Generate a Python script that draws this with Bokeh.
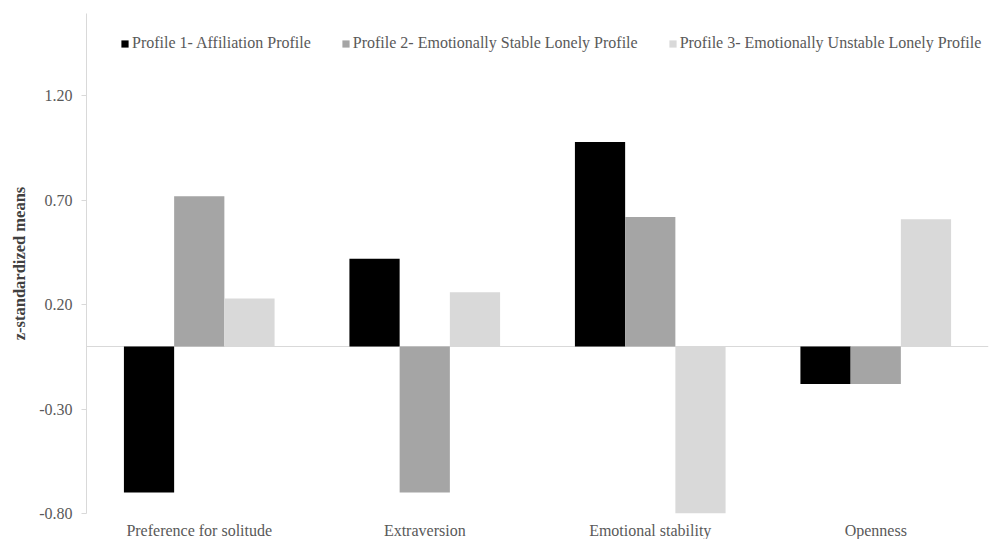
from bokeh.plotting import figure
from bokeh.models import (FactorRange, Range1d, FixedTicker, Span, Legend, LegendItem,
                          ColumnDataSource, GlobalInlineStyleSheet)
from bokeh.transform import dodge
from bokeh.embed import file_html
from bokeh.resources import INLINE

categories = ["Preference for solitude", "Extraversion", "Emotional stability", "Openness"]
series_names = ["Profile 1- Affiliation Profile",
                "Profile 2- Emotionally Stable Lonely Profile",
                "Profile 3- Emotionally Unstable Lonely Profile"]
profile1 = [-0.70, 0.42, 0.98, -0.18]
profile2 = [0.72, -0.70, 0.62, -0.18]
profile3 = [0.23, 0.26, -0.80, 0.61]
y_ticks = [-0.8, -0.3, 0.2, 0.7, 1.2]
y_tick_labels = ["-0.80", "-0.30", "0.20", "0.70", "1.20"]
colors = ["#000000", "#a5a5a5", "#d9d9d9"]

FONT = "Liberation Serif"
TEXT = "#595959"

src = ColumnDataSource(dict(cat=categories, p1=profile1, p2=profile2, p3=profile3))

p = figure(x_range=FactorRange(factors=categories, range_padding=0),
           y_range=Range1d(-0.80, 1.595),
           width=996, height=550, output_backend="svg", toolbar_location=None,
           min_border_left=86, min_border_right=8, min_border_top=13, min_border_bottom=37)
p.stylesheets = [GlobalInlineStyleSheet(css="html, body { overflow: hidden; }")]

p.add_layout(Span(location=0, dimension="width", line_color="#d9d9d9", line_width=1, level="underlay"))

bw = 0.2227
renderers = []
for field, off, col in zip(["p1", "p2", "p3"], [-bw, 0, bw], colors):
    r = p.vbar(x=dodge("cat", off, range=p.x_range), top=field, bottom=0, width=bw,
               source=src, fill_color=col, line_color=None)
    renderers.append(r)

legend = Legend(items=[LegendItem(label=n, renderers=[r]) for n, r in zip(series_names, renderers)],
                orientation="horizontal", location=(34, 461),
                glyph_width=9, glyph_height=9, label_standoff=3, spacing=30,
                padding=0, margin=0, border_line_color=None, background_fill_alpha=0,
                label_text_font=FONT, label_text_font_size="16px", label_text_color=TEXT,
                label_height=9)
p.add_layout(legend)

p.xgrid.visible = False
p.ygrid.visible = False
p.outline_line_color = None
p.background_fill_color = "white"
p.border_fill_color = "white"

ya = p.yaxis[0]
ya.ticker = FixedTicker(ticks=y_ticks)
ya.major_label_overrides = {t: l for t, l in zip(y_ticks, y_tick_labels)}
ya.minor_tick_line_color = None
ya.major_tick_in = 0
ya.major_tick_out = 5
ya.major_tick_line_color = "#d9d9d9"
ya.axis_line_color = "#d9d9d9"
ya.major_label_standoff = 9
ya.major_label_text_font = FONT
ya.major_label_text_font_size = "16px"
ya.major_label_text_color = TEXT
ya.axis_label = "z-standardized means"
ya.axis_label_text_font = FONT
ya.axis_label_text_font_style = "bold"
ya.axis_label_text_font_size = "16.5px"
ya.axis_label_text_color = "#404040"
ya.axis_label_standoff = 7

xa = p.xaxis[0]
xa.axis_line_color = None
xa.major_tick_line_color = None
xa.minor_tick_line_color = None
xa.major_label_standoff = 2
xa.major_label_text_font = FONT
xa.major_label_text_font_size = "16px"
xa.major_label_text_color = TEXT

open("out.html", "w").write(file_html(p, INLINE))
